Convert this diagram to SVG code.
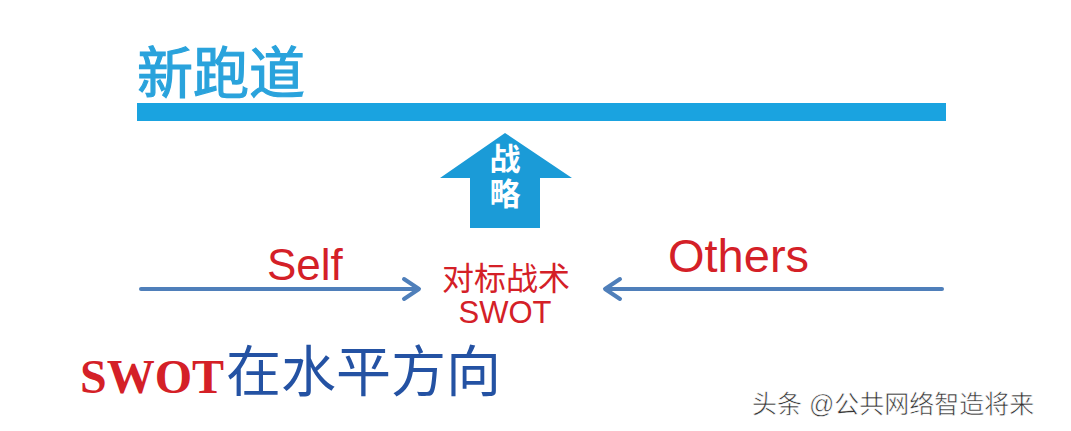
<svg xmlns="http://www.w3.org/2000/svg" width="1071" height="431" viewBox="0 0 1071 431">
<style>
.cjk{font-family:"Liberation Sans","Noto Sans CJK SC",sans-serif}
.red{fill:#d42027}
.conn{stroke:#4f7fba;stroke-width:4;fill:none;stroke-linecap:round;stroke-linejoin:round}
</style>
<rect width="1071" height="431" fill="#ffffff"/>
<g id="title">
<text class="cjk" x="137" y="93" font-size="56" fill="#2aa3dc" stroke="#2aa3dc" stroke-width="1.2">新跑道</text>
<rect x="137" y="103" width="809" height="18" fill="#1aa3e0"/>
</g>
<g id="strategy">
<polygon points="505,133 572,178 540,178 540,228 470,228 470,178 440,178" fill="#1b9bd7"/>
<text class="cjk" x="505" y="170" font-size="31" font-weight="bold" fill="#ffffff" text-anchor="middle">战</text>
<text class="cjk" x="505" y="205" font-size="31" font-weight="bold" fill="#ffffff" text-anchor="middle">略</text>
</g>
<g id="connectors">
<line class="conn" x1="141" y1="289" x2="418" y2="289"/>
<polyline class="conn" points="404,279 419,289 404,299"/>
<line class="conn" x1="942" y1="289" x2="606" y2="289"/>
<polyline class="conn" points="620,279 605,289 620,299"/>
</g>
<g id="self">
<text class="cjk red" x="267" y="280" font-size="44">Self</text>
</g>
<g id="center">
<text class="cjk red" x="506" y="290" font-size="32" text-anchor="middle">对标战术</text>
<text class="cjk red" x="505" y="323" font-size="31" text-anchor="middle">SWOT</text>
</g>
<g id="others">
<text class="cjk red" x="668" y="272" font-size="47">Others</text>
</g>
<g id="caption">
<text x="80" y="393" font-family="Liberation Serif,serif" font-weight="bold" font-size="48" fill="#d42027">SWOT</text>
<text class="cjk" x="226" y="391" font-size="55" fill="#2452a3">在水平方向</text>
</g>
<g id="watermark">
<text class="cjk" x="752" y="413" font-size="25" fill="#333333" stroke="#ffffff" stroke-width="0.6">头条 @公共网络智造将来</text>
</g>
</svg>
